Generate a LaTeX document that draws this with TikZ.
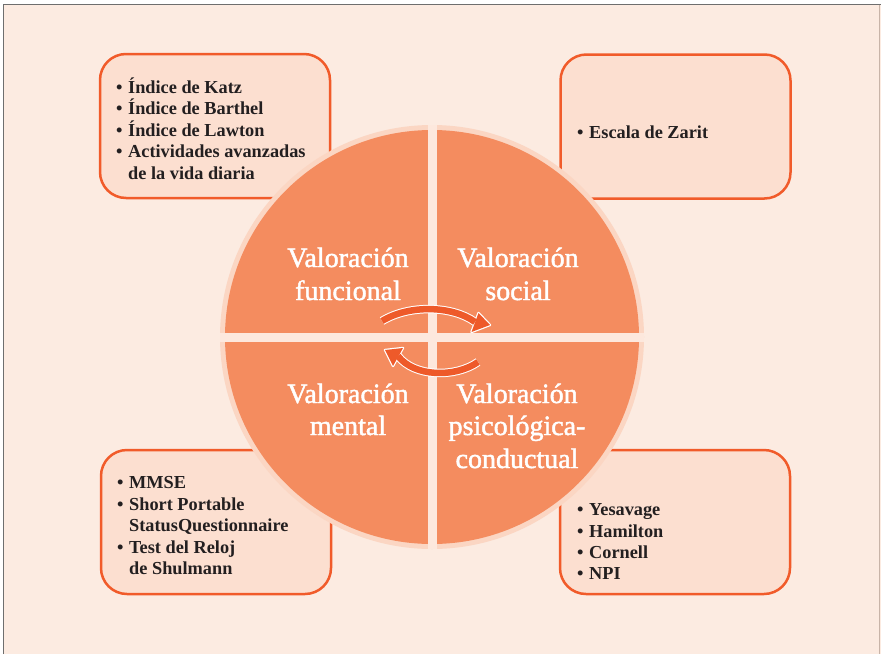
\documentclass[tikz,border=0pt]{standalone}
\usepackage{fontspec}
\setmainfont{Liberation Serif}
\newfontfamily\qfont[FakeBold=1.6]{Liberation Serif}
\definecolor{bgc}{HTML}{FCEBE1}
\definecolor{boxfill}{HTML}{FCDFD0}
\definecolor{boxline}{HTML}{F15B2A}
\definecolor{halo}{HTML}{FBD6C3}
\definecolor{gapc}{HTML}{FDE8DD}
\definecolor{quad}{HTML}{F48C5F}
\definecolor{arrowc}{HTML}{EE5A2A}
\definecolor{txt}{HTML}{231F20}
\definecolor{framec}{HTML}{6E6E6E}
\definecolor{framer}{HTML}{C8B4A8}
\newcommand\bul{\makebox[12pt][l]{•}}
\begin{document}
\begin{tikzpicture}[x=1pt,y=-1pt,
 infobox/.style={draw=boxline, line width=2.5pt, fill=boxfill, rounded corners=26pt,
   minimum width=230pt, minimum height=144pt, inner sep=0pt},
 item/.style={anchor=base west, inner sep=0pt, text=txt, font=\bfseries\fontsize{18.3}{21.5}\selectfont},
 qlabel/.style={anchor=base, inner sep=0pt, text=white, font=\qfont\fontsize{28}{33}\selectfont},
 arrowbody/.style={arrowc, line width=6.5pt},
 arrowhalo/.style={white, line width=8.5pt}]
\useasboundingbox (0,0) rectangle (881,654);
\fill[white] (0,0) rectangle (881,654);
\fill[bgc] (3,4) rectangle (881,654);
\draw[framec, line width=1.2pt] (3.6,654) -- (3.6,4.6) -- (881,4.6);
\draw[framer, line width=0.8pt] (879.8,4.6) -- (879.8,654);

% boxes
\node[infobox] (bTL) at (215,126) {};
\node[infobox] (bTR) at (675.5,126.5) {};
\node[infobox] (bBL) at (216,522) {};
\node[infobox] (bBR) at (675,522) {};

% circle
\coordinate (C) at (432,337);
\fill[halo] (C) circle[radius=212];
\begin{scope}
 \clip (C) circle[radius=212];
 \fill[gapc] (427.5,100) rectangle (436.5,560);
 \fill[gapc] (200,332.5) rectangle (660,341.5);
\end{scope}
\begin{scope}
 \clip (C) circle[radius=207];
 \fill[quad] (200,100) rectangle (427.5,332.5);
 \fill[quad] (436.5,100) rectangle (660,332.5);
 \fill[quad] (200,341.5) rectangle (427.5,560);
 \fill[quad] (436.5,341.5) rectangle (660,560);
\end{scope}

% quadrant labels
\node[qlabel] (fu1) at (348,267) {Valoración};
\node[qlabel] (fu2) at (348,300) {funcional};
\node[qlabel] (so1) at (518,267) {Valoración};
\node[qlabel] (so2) at (518,300) {social};
\node[qlabel] (me1) at (348,403) {Valoración};
\node[qlabel] (me2) at (348,435) {mental};
\node[qlabel] (ps1) at (517,403) {Valoración};
\node[qlabel] (ps2) at (517,435) {psicológica-};
\node[qlabel] (ps3) at (517,468) {conductual};

% box texts
\node[item] (tl1) at (116,93) {\bul Índice de Katz};
\node[item] (tl2) at (116,114.5) {\bul Índice de Barthel};
\node[item] (tl3) at (116,136) {\bul Índice de Lawton};
\node[item] (tl4) at (116,157.5) {\bul Actividades avanzadas};
\node[item] (tl5) at (128,179) {de la vida diaria};
\node[item] (tr1) at (577,138) {\bul Escala de Zarit};
\node[item] (bl1) at (117,488) {\bul MMSE};
\node[item] (bl2) at (117,510) {\bul Short Portable};
\node[item] (bl3) at (129,531.5) {StatusQuestionnaire};
\node[item] (bl4) at (117,553) {\bul Test del Reloj};
\node[item] (bl5) at (129,574) {de Shulmann};
\node[item] (br1) at (577,515) {\bul Yesavage};
\node[item] (br2) at (577,537) {\bul Hamilton};
\node[item] (br3) at (577,558) {\bul Cornell};
\node[item] (br4) at (577,579) {\bul NPI};

% arrows
\coordinate (ta) at (382,321);
\coordinate (tb) at (475,322);
\coordinate (ba) at (478,362);
\coordinate (bb) at (398,356);
\draw[arrowhalo] (ta) .. controls (410,304) and (453,306) .. (tb);
\filldraw[white, line width=2.4pt, line join=round] (471.5,332) -- (490,325) -- (478.5,313) -- cycle;
\draw[arrowhalo] (ba) .. controls (455,378) and (414,377) .. (bb);
\filldraw[white, line width=2.4pt, line join=round] (393,366) -- (385,350) -- (403,348) -- cycle;
\draw[arrowbody] (ta) .. controls (410,304) and (453,306) .. (tb);
\fill[arrowc] (471.5,332) -- (490,325) -- (478.5,313) -- cycle;
\draw[arrowbody] (ba) .. controls (455,378) and (414,377) .. (bb);
\fill[arrowc] (393,366) -- (385,350) -- (403,348) -- cycle;
\end{tikzpicture}
\end{document}
